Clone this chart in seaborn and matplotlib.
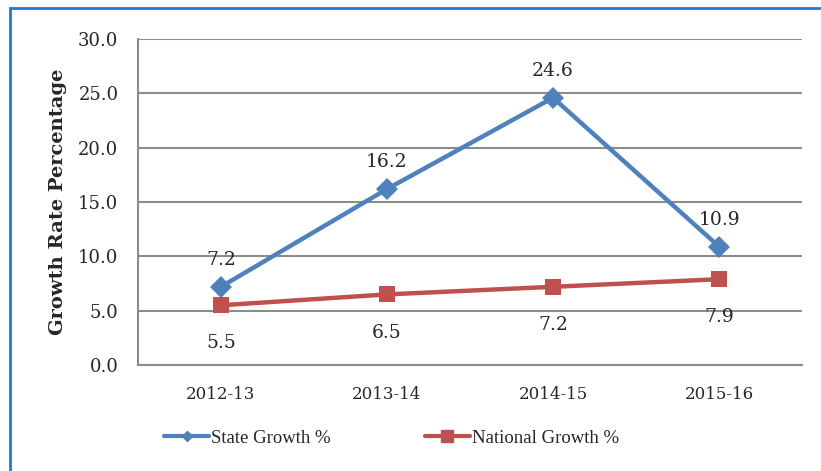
import matplotlib.pyplot as plt
import matplotlib.patches as mpatches
import pandas as pd
import seaborn as sns

years = ["2012-13", "2013-14", "2014-15", "2015-16"]
state_growth = [7.2, 16.2, 24.6, 10.9]
national_growth = [5.5, 6.5, 7.2, 7.9]

BLUE = "#4F81BD"
RED = "#C0504D"
GRID = "#8C8C8C"

df = pd.DataFrame({
    "year": years * 2,
    "growth": state_growth + national_growth,
    "series": ["State Growth %"] * 4 + ["National Growth %"] * 4,
})

sns.set_style("white")
plt.rcParams["font.family"] = ["DejaVu Serif"]

fig = plt.figure(figsize=(8.21, 4.71), dpi=100)
ax = fig.add_axes([0.168, 0.225, 0.809, 0.692])

sns.lineplot(data=df, x="year", y="growth", hue="series", style="series",
             palette={"State Growth %": BLUE, "National Growth %": RED},
             markers={"State Growth %": "D", "National Growth %": "s"},
             dashes=False, linewidth=3.2, markersize=11, markeredgewidth=0,
             sort=False, ax=ax, legend=False)

for i, v in enumerate(state_growth):
    ax.annotate(f"{v:.1f}", (i, v), textcoords="offset points", xytext=(0, 13),
                ha="center", va="bottom", fontsize=13.5)
for i, v in enumerate(national_growth):
    ax.annotate(f"{v:.1f}", (i, v), textcoords="offset points", xytext=(0, -21),
                ha="center", va="top", fontsize=13.5)

ax.set_xlim(-0.5, 3.5)
ax.set_ylim(0, 30)
ax.set_yticks(range(0, 31, 5))
ax.set_yticklabels([f"{t:.1f}" for t in range(0, 31, 5)], fontsize=13)
ax.set_xticks(range(len(years)))
ax.set_xticklabels(years, fontsize=12)
ax.tick_params(axis="y", length=0, pad=14)
ax.tick_params(axis="x", length=0, pad=15)
ax.yaxis.grid(True, color=GRID, linewidth=1.5)
ax.set_axisbelow(True)
for side in ["top", "right"]:
    ax.spines[side].set_visible(False)
for side in ["left", "bottom"]:
    ax.spines[side].set_color(GRID)
    ax.spines[side].set_linewidth(1.5)
ax.set_xlabel("")
ax.set_ylabel("Growth Rate Percentage", fontsize=14, fontweight="bold", labelpad=8)

handles = [
    plt.Line2D([], [], color=BLUE, marker="D", linewidth=3, markersize=5),
    plt.Line2D([], [], color=RED, marker="s", linewidth=3, markersize=8),
]
fig.legend(handles, ["State Growth %", "National Growth %"], loc="center",
           bbox_to_anchor=(0.477, 0.07), ncol=2, frameon=False, handlelength=2.4,
           handletextpad=0.1, columnspacing=5.0,
           prop={"family": "Liberation Serif", "size": 13.5})

frame = mpatches.Rectangle((10 / 821, -0.1), 1.2, 1 - 8 / 471 + 0.1,
                           transform=fig.transFigure, fill=False,
                           edgecolor="#1F7BD0", linewidth=2)
fig.add_artist(frame)

fig.savefig("out.png", dpi=100)
